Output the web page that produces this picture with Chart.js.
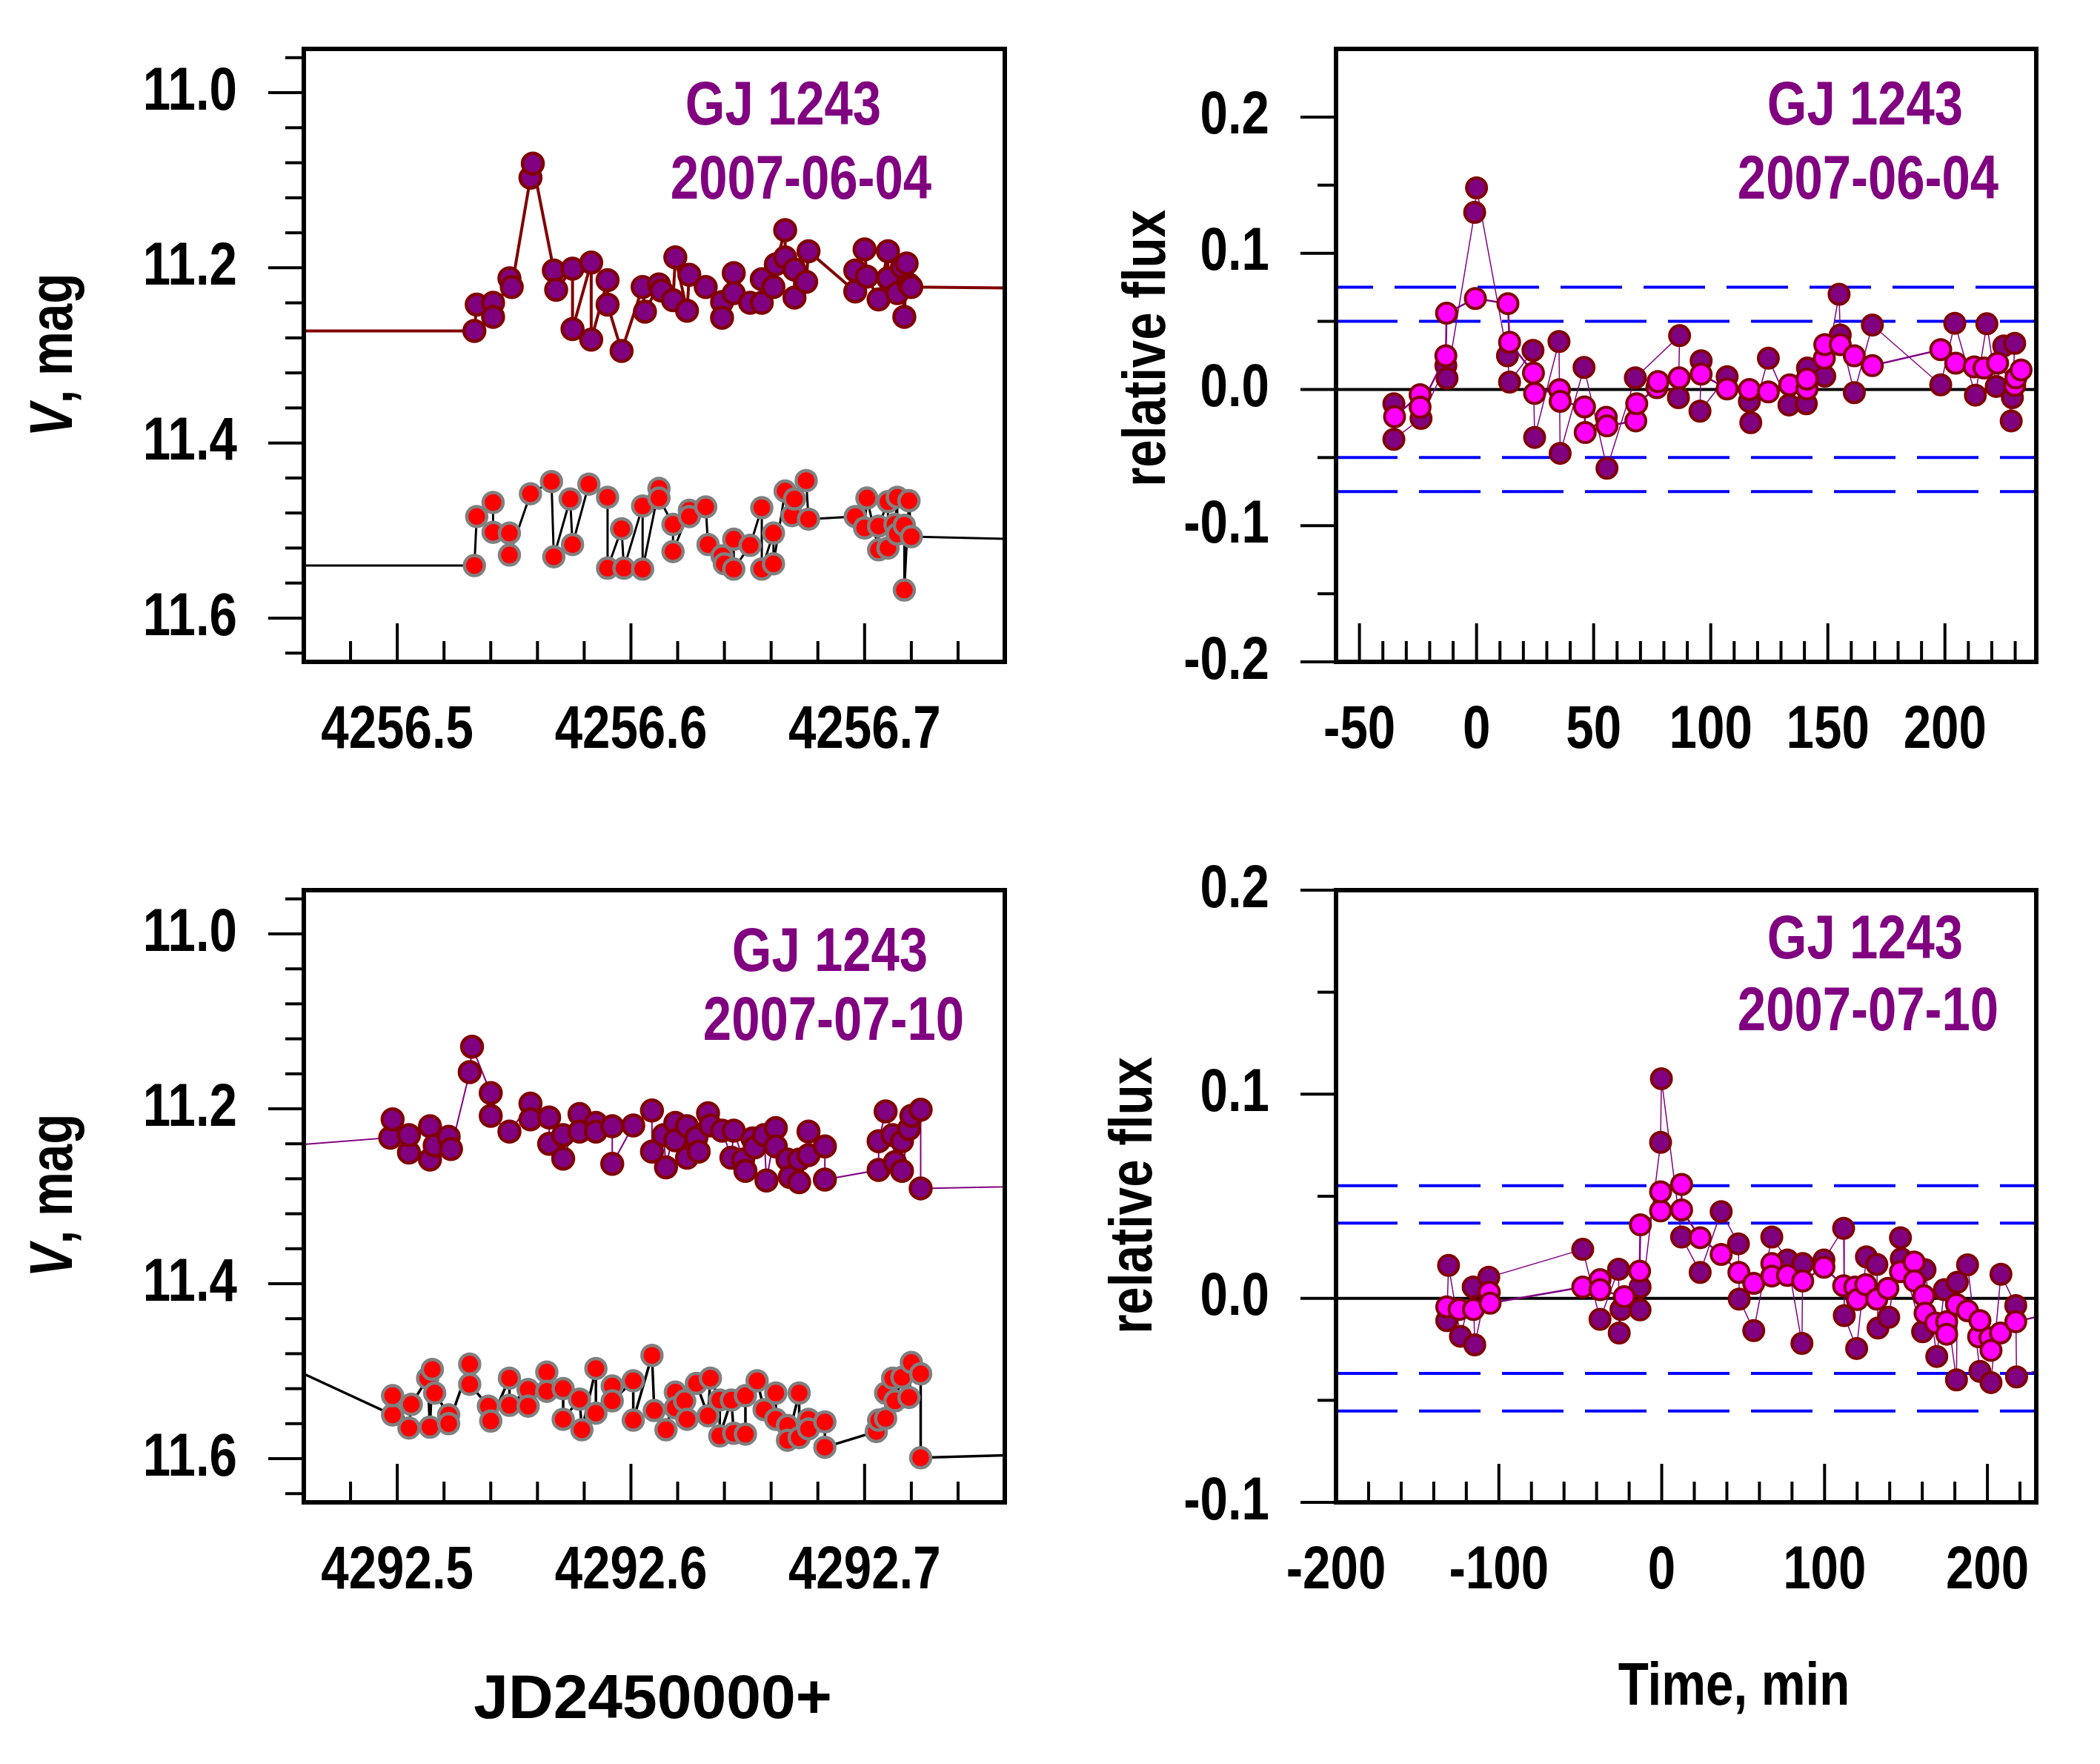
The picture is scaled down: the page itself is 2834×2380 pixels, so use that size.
<!DOCTYPE html>
<html><head><meta charset="utf-8">
<script src="https://cdn.jsdelivr.net/npm/chart.js@4.4.1/dist/chart.umd.min.js"></script>
<style>
html,body{margin:0;padding:0;background:#fff;}
#wrap{position:relative;width:2834px;height:2380px;background:#fff;overflow:hidden;}
.q{position:absolute;}
</style></head><body>
<div id="wrap">
<div class="q" style="left:0;top:0;width:1417px;height:1100px"><canvas id="c1" width="1417" height="1100"></canvas></div>
<div class="q" style="left:1417px;top:0;width:1417px;height:1100px"><canvas id="c2" width="1417" height="1100"></canvas></div>
<div class="q" style="left:0;top:1100px;width:1417px;height:1280px"><canvas id="c3" width="1417" height="1280"></canvas></div>
<div class="q" style="left:1417px;top:1100px;width:1417px;height:1280px"><canvas id="c4" width="1417" height="1280"></canvas></div>
</div>
<script>
// ---------------- DATA ----------------
// 2007-06-04, V magnitudes vs JD-2450000 (star and comparison)
const jun04Star = [[4256.400,11.272],[4256.533,11.272],[4256.534,11.242],[4256.541,11.240],[4256.541,11.256],[4256.548,11.212],[4256.549,11.222],[4256.557,11.097],[4256.558,11.081],[4256.567,11.203],[4256.568,11.225],[4256.575,11.201],[4256.575,11.270],[4256.583,11.194],[4256.583,11.282],[4256.590,11.214],[4256.590,11.242],[4256.596,11.295],[4256.605,11.222],[4256.606,11.250],[4256.612,11.219],[4256.613,11.226],[4256.618,11.237],[4256.619,11.188],[4256.624,11.249],[4256.625,11.208],[4256.632,11.222],[4256.639,11.239],[4256.639,11.257],[4256.644,11.206],[4256.644,11.229],[4256.651,11.240],[4256.656,11.240],[4256.656,11.213],[4256.661,11.222],[4256.662,11.196],[4256.666,11.157],[4256.666,11.188],[4256.670,11.202],[4256.670,11.234],[4256.675,11.216],[4256.676,11.181],[4256.696,11.227],[4256.696,11.203],[4256.700,11.179],[4256.701,11.210],[4256.706,11.236],[4256.710,11.181],[4256.710,11.212],[4256.714,11.229],[4256.716,11.199],[4256.717,11.256],[4256.718,11.195],[4256.719,11.219],[4256.720,11.222],[4256.800,11.224]];
const jun04Comp = [[4256.400,11.540],[4256.533,11.540],[4256.534,11.484],[4256.541,11.468],[4256.541,11.502],[4256.548,11.503],[4256.548,11.528],[4256.557,11.458],[4256.566,11.444],[4256.567,11.530],[4256.574,11.464],[4256.575,11.516],[4256.582,11.447],[4256.590,11.462],[4256.590,11.543],[4256.596,11.498],[4256.597,11.543],[4256.605,11.472],[4256.605,11.544],[4256.612,11.452],[4256.612,11.463],[4256.618,11.493],[4256.618,11.524],[4256.625,11.477],[4256.625,11.484],[4256.632,11.473],[4256.633,11.516],[4256.639,11.529],[4256.640,11.538],[4256.644,11.510],[4256.644,11.544],[4256.651,11.517],[4256.656,11.474],[4256.656,11.544],[4256.661,11.503],[4256.661,11.538],[4256.666,11.455],[4256.669,11.483],[4256.670,11.464],[4256.675,11.443],[4256.676,11.487],[4256.696,11.484],[4256.700,11.497],[4256.701,11.463],[4256.706,11.522],[4256.706,11.495],[4256.710,11.467],[4256.710,11.520],[4256.713,11.493],[4256.714,11.462],[4256.714,11.504],[4256.717,11.494],[4256.717,11.568],[4256.719,11.466],[4256.720,11.507],[4256.800,11.512]];
// 2007-07-10
const jul10Star = [[4292.400,11.253],[4292.497,11.233],[4292.498,11.212],[4292.505,11.250],[4292.505,11.230],[4292.514,11.220],[4292.514,11.258],[4292.516,11.242],[4292.522,11.232],[4292.523,11.246],[4292.531,11.158],[4292.532,11.129],[4292.540,11.182],[4292.540,11.208],[4292.548,11.226],[4292.557,11.194],[4292.557,11.212],[4292.565,11.210],[4292.565,11.240],[4292.571,11.230],[4292.571,11.257],[4292.578,11.206],[4292.578,11.226],[4292.585,11.216],[4292.585,11.226],[4292.592,11.220],[4292.592,11.263],[4292.601,11.219],[4292.609,11.202],[4292.609,11.249],[4292.614,11.230],[4292.615,11.267],[4292.619,11.216],[4292.619,11.236],[4292.624,11.220],[4292.624,11.256],[4292.628,11.233],[4292.629,11.249],[4292.633,11.205],[4292.634,11.219],[4292.639,11.225],[4292.643,11.256],[4292.644,11.225],[4292.648,11.258],[4292.649,11.271],[4292.652,11.234],[4292.653,11.244],[4292.657,11.230],[4292.658,11.282],[4292.662,11.222],[4292.662,11.243],[4292.667,11.258],[4292.668,11.278],[4292.672,11.258],[4292.672,11.284],[4292.676,11.253],[4292.676,11.226],[4292.683,11.243],[4292.683,11.281],[4292.706,11.270],[4292.706,11.237],[4292.709,11.203],[4292.712,11.230],[4292.713,11.261],[4292.716,11.237],[4292.716,11.271],[4292.719,11.223],[4292.720,11.208],[4292.724,11.201],[4292.724,11.291],[4292.800,11.287]];
const jul10Comp = [[4292.400,11.429],[4292.498,11.550],[4292.498,11.528],[4292.505,11.565],[4292.506,11.538],[4292.513,11.508],[4292.514,11.564],[4292.515,11.498],[4292.516,11.525],[4292.522,11.550],[4292.522,11.560],[4292.531,11.492],[4292.531,11.515],[4292.539,11.540],[4292.540,11.557],[4292.548,11.508],[4292.548,11.539],[4292.556,11.521],[4292.556,11.540],[4292.564,11.501],[4292.564,11.523],[4292.571,11.520],[4292.571,11.555],[4292.578,11.532],[4292.579,11.567],[4292.585,11.497],[4292.585,11.548],[4292.592,11.517],[4292.592,11.534],[4292.601,11.511],[4292.601,11.556],[4292.609,11.482],[4292.610,11.545],[4292.615,11.567],[4292.619,11.524],[4292.619,11.542],[4292.623,11.534],[4292.624,11.555],[4292.628,11.514],[4292.633,11.551],[4292.634,11.508],[4292.638,11.533],[4292.638,11.574],[4292.643,11.533],[4292.644,11.571],[4292.649,11.572],[4292.649,11.528],[4292.654,11.511],[4292.657,11.544],[4292.662,11.525],[4292.662,11.555],[4292.667,11.562],[4292.667,11.579],[4292.672,11.525],[4292.672,11.576],[4292.676,11.555],[4292.676,11.566],[4292.683,11.558],[4292.683,11.587],[4292.705,11.569],[4292.706,11.556],[4292.709,11.554],[4292.709,11.525],[4292.712,11.508],[4292.713,11.534],[4292.716,11.507],[4292.719,11.530],[4292.720,11.490],[4292.724,11.503],[4292.724,11.599],[4292.800,11.593]];
// relative flux vs time (min) : raw and smoothed
const jun04Raw = [[-35.3,-0.0105],[-35.3,-0.0366],[-23.7,-0.0213],[-13.1,0.0175],[-12.6,0.0081],[-0.8,0.130],[0.0,0.148],[13.2,0.0247],[14.1,0.0054],[24.1,0.0287],[24.8,-0.0352],[35.2,0.0352],[35.7,-0.0469],[45.9,0.0162],[55.7,-0.0578],[67.8,0.0085],[86.7,0.0395],[86.2,-0.006],[95.9,0.0211],[95.4,-0.0159],[107.0,0.0094],[116.5,-0.0087],[117.1,-0.0244],[124.6,0.0229],[133.4,-0.0114],[140.8,-0.0105],[141.3,0.0157],[148.7,0.0097],[154.8,0.0699],[155.3,0.040],[161.3,-0.0023],[169.0,0.0473],[198.2,0.0034],[204.2,0.0486],[213.0,-0.0042],[217.9,0.0482],[221.9,0.0022],[225.1,0.032],[228.3,-0.0231],[228.8,-0.006],[229.8,0.0338]];
const jun04Smooth = [[-35.0,-0.020],[-24.1,-0.0038],[-24.1,-0.013],[-13.1,0.0247],[-12.8,0.056],[-0.5,0.0668],[13.4,0.063],[14.1,0.0347],[24.3,0.0121],[24.8,-0.0029],[35.4,-0.0002],[35.7,-0.0087],[46.1,-0.0128],[46.4,-0.0316],[55.4,-0.0204],[55.7,-0.0267],[68.0,-0.0231],[68.4,-0.0105],[77.0,0.0013],[77.5,0.0058],[86.5,0.0085],[95.9,0.0112],[107.0,0.0004],[116.5,0.0],[124.6,-0.0018],[133.7,0.0034],[141.1,0.0004],[141.1,0.0076],[148.5,0.0229],[148.7,0.0329],[155.3,0.0329],[161.3,0.0247],[169.0,0.0175],[198.2,0.0292],[204.6,0.0193],[212.5,0.0166],[216.7,0.0157],[222.5,0.0193],[229.8,0.003],[230.3,0.0085],[232.5,0.0143]];
const jul10Raw = [[-132.0,-0.0109],[-130.9,0.0161],[-123.6,-0.0186],[-115.8,0.0055],[-114.8,-0.0228],[-106.2,0.0103],[-48.5,0.024],[-37.9,-0.0103],[-26.5,0.0142],[-26.1,-0.017],[-25.0,-0.0055],[-13.3,0.0055],[-13.3,-0.0057],[-0.7,0.0764],[-0.2,0.1076],[12.2,0.030],[23.6,0.0127],[36.5,0.0425],[47.1,0.0267],[47.6,-0.0004],[56.5,-0.0158],[67.6,0.030],[77.2,0.0188],[86.1,-0.0221],[86.6,0.017],[99.6,0.0188],[111.7,0.0343],[112.1,-0.0085],[119.7,-0.0246],[125.7,0.0203],[132.1,0.0166],[132.8,-0.0146],[139.4,-0.0093],[146.6,0.0297],[147.1,0.0194],[160.2,-0.0164],[161.7,0.014],[168.9,-0.0285],[173.5,0.0042],[181.0,-0.040],[181.5,0.0079],[187.8,0.0164],[195.4,-0.0358],[202.2,-0.0413],[208.3,0.0118],[217.4,-0.0036],[217.9,-0.0385],[236.0,-0.034]];
const jul10Smooth = [[-132.0,-0.0042],[-124.4,-0.0055],[-115.6,-0.0055],[-105.9,0.003],[-105.4,-0.0024],[-48.5,0.0055],[-37.9,0.0091],[-37.9,0.0042],[-23.0,0.0008],[-13.6,0.0133],[-13.1,0.036],[-0.7,0.0428],[-0.7,0.0522],[12.2,0.0558],[12.2,0.0433],[23.6,0.0297],[36.5,0.0215],[47.4,0.0127],[56.5,0.0073],[67.6,0.017],[67.6,0.0109],[77.2,0.0112],[86.6,0.0085],[99.6,0.0152],[111.7,0.0061],[118.6,0.0055],[120.1,-0.0006],[125.3,0.0067],[132.1,-0.0004],[138.9,0.0049],[146.6,0.013],[155.0,0.0178],[155.2,0.0085],[161.0,0.0012],[161.7,-0.0073],[168.2,-0.0121],[175.0,-0.0115],[175.0,-0.0176],[181.0,-0.003],[187.8,-0.0061],[194.6,-0.0188],[195.4,-0.0109],[201.5,-0.0194],[202.2,-0.0255],[208.0,-0.017],[217.4,-0.0115],[236.0,-0.008]];
// threshold levels (±2σ, ±3σ)
const jun04Levels = [0.05, 0.075];
const jul10Levels = [0.0368, 0.0552];
// tick labels
const magTicks = [11.0, 11.2, 11.4, 11.6];
const jd1Ticks = [4256.5, 4256.6, 4256.7];
const jd2Ticks = [4292.5, 4292.6, 4292.7];
const flux1Ticks = [-0.2, -0.1, 0.0, 0.1, 0.2];
const flux2Ticks = [-0.1, 0.0, 0.1, 0.2];
const time1Ticks = [-50, 0, 50, 100, 150, 200];
const time2Ticks = [-200, -100, 0, 100, 200];
const starName = 'GJ 1243';
const dates = ['2007-06-04', '2007-07-10'];

// ---------------- STYLE ----------------
const NARROW = "'Liberation Sans Narrow','Arial Narrow',sans-serif";
const REG = "'Liberation Sans',Arial,sans-serif";
const PURPLE = '#800080', MAROON = '#800000', MAGENTA = '#FF00FF';

// condensed rendering when no narrow face is installed
const K = (function () {
  const c = document.createElement('canvas').getContext('2d');
  c.font = "bold 100px " + NARROW; const a = c.measureText('0000000000').width;
  c.font = "bold 100px " + REG; const b = c.measureText('0000000000').width;
  return (a / b < 0.9) ? 1 : 0.82;
})();
function condense(canvas) {
  const ctx = canvas.getContext('2d');
  const orig = ctx.fillText;
  ctx.fillText = function (t, x, y, mw) {
    if (K !== 1 && /Narrow/.test(this.font)) {
      this.save(); this.translate(x, y); this.scale(K, 1);
      if (mw !== undefined) orig.call(this, t, 0, 0, mw / K); else orig.call(this, t, 0, 0);
      this.restore();
    } else if (mw !== undefined) orig.call(this, t, x, y, mw); else orig.call(this, t, x, y);
  };
}

function range(a, b, s) {
  const n = Math.round((b - a) / s); const out = [];
  for (let i = 0; i <= n; i++) out.push(Math.round((a + i * s) * 1e6) / 1e6);
  return out;
}
const isIn = (v, arr) => arr.some(m => Math.abs(m - v) < 1e-6);
const pts = arr => arr.map(([x, y]) => ({x, y}));
const zeroPad = s => { s.paddingTop = 0; s.paddingBottom = 0; s.paddingLeft = 0; s.paddingRight = 0; };

const cfgs = {};

function makeChart(id, c) {
  cfgs[id] = c;
  const canvas = document.getElementById(id);
  condense(canvas);
  const W = canvas.width, H = canvas.height;
  const xt = range(c.x.from, c.x.to, c.x.step);
  const yt = range(c.y.from, c.y.to, c.y.step);
  c.xt = xt; c.yt = yt;
  new Chart(canvas, {
    type: 'scatter',
    data: {datasets: c.datasets},
    options: {
      responsive: false, animation: false,
      layout: {padding: {left: 0, top: c.area.top, right: W - c.area.right, bottom: 0}},
      plugins: {legend: {display: false}, tooltip: {enabled: false}},
      elements: {line: {tension: 0}},
      scales: {
        x: {
          type: 'linear', position: 'bottom', min: c.x.min, max: c.x.max,
          afterFit: s => { s.height = H - c.area.bottom; zeroPad(s); },
          afterBuildTicks: s => { s.ticks = xt.map(v => ({value: v})); },
          grid: {display: false, drawTicks: false}, border: {display: false},
          ticks: {autoSkip: false, maxRotation: 0, minRotation: 0, padding: 44, color: '#000',
            font: {family: NARROW, size: 82, weight: 'bold'},
            callback: v => isIn(v, c.x.majors) ? c.x.fmt(v) : ''}
        },
        y: {
          type: 'linear', position: 'left', min: c.y.min, max: c.y.max, reverse: !!c.y.reverse,
          afterFit: s => { s.width = c.area.left; zeroPad(s); },
          afterBuildTicks: s => { s.ticks = yt.map(v => ({value: v})); },
          grid: {display: false, drawTicks: false}, border: {display: false},
          ticks: {autoSkip: false, padding: 90, color: '#000',
            font: {family: NARROW, size: 82, weight: 'bold'},
            callback: v => isIn(v, c.y.majors) ? v.toFixed(1) : ''}
        }
      }
    },
    plugins: [decor]
  });
}

const decor = {
  id: 'decor',
  beforeDatasetsDraw(chart) {
    const c = cfgs[chart.canvas.id]; if (!c.levels) return;
    const ctx = chart.ctx, a = chart.chartArea, ys = chart.scales.y;
    ctx.save();
    ctx.beginPath(); ctx.rect(a.left, a.top, a.right - a.left, a.bottom - a.top); ctx.clip();
    ctx.strokeStyle = '#0000FF'; ctx.lineWidth = 4; ctx.setLineDash([83, 29]);
    const lv = [];
    c.levels.forEach(v => { lv.push(v); lv.push(-v); });
    lv.forEach(v => {
      const y = ys.getPixelForValue(v);
      ctx.lineDashOffset = (c.dashShift && v === c.levels[1]) ? c.dashShift : 0;
      ctx.beginPath(); ctx.moveTo(a.left, y); ctx.lineTo(a.right, y); ctx.stroke();
    });
    ctx.setLineDash([]);
    ctx.strokeStyle = '#000'; ctx.lineWidth = 4;
    const y0 = ys.getPixelForValue(0);
    ctx.beginPath(); ctx.moveTo(a.left, y0); ctx.lineTo(a.right, y0); ctx.stroke();
    ctx.restore();
  },
  afterDatasetsDraw(chart) {
    const c = cfgs[chart.canvas.id];
    const ctx = chart.ctx, a = chart.chartArea, xs = chart.scales.x, ys = chart.scales.y;
    ctx.save();
    ctx.strokeStyle = '#000'; ctx.lineWidth = 4; ctx.lineCap = 'butt';
    c.xt.forEach(v => {
      const px = xs.getPixelForValue(v); const len = isIn(v, c.x.majors) ? 52 : 28;
      ctx.beginPath(); ctx.moveTo(px, a.bottom); ctx.lineTo(px, a.bottom - len); ctx.stroke();
    });
    c.yt.forEach(v => {
      const py = ys.getPixelForValue(v); const len = isIn(v, c.y.majors) ? 48 : 25;
      ctx.beginPath(); ctx.moveTo(a.left, py); ctx.lineTo(a.left - len, py); ctx.stroke();
    });
    ctx.lineWidth = 6; ctx.lineJoin = 'miter';
    ctx.strokeRect(a.left, a.top, a.right - a.left, a.bottom - a.top);
    ctx.restore();
  },
  afterDraw(chart) {
    const c = cfgs[chart.canvas.id]; const ctx = chart.ctx;
    c.texts.forEach(t => {
      ctx.save();
      ctx.fillStyle = t.color || '#000';
      ctx.textBaseline = 'alphabetic';
      ctx.translate(t.x, t.y);
      if (t.rot) ctx.rotate(-Math.PI / 2);
      const k = /Narrow/.test(t.family) ? K : 1;
      if (t.italicPrefix) {
        const f1 = 'italic bold ' + t.size + 'px ' + t.family;
        const f2 = 'bold ' + t.size + 'px ' + t.family;
        ctx.font = f1; const w1 = ctx.measureText(t.italicPrefix).width * k;
        ctx.font = f2; const w2 = ctx.measureText(t.text).width * k;
        const x0 = -(w1 + w2) / 2;
        ctx.textAlign = 'left';
        ctx.font = f1; ctx.fillText(t.italicPrefix, x0, 0);
        ctx.font = f2; ctx.fillText(t.text, x0 + w1, 0);
      } else {
        ctx.font = 'bold ' + t.size + 'px ' + t.family;
        ctx.textAlign = 'center';
        ctx.fillText(t.text, 0, 0);
      }
      ctx.restore();
    });
  }
};

function magSets(star, comp, starLine, starLineW, compLineW) {
  return [
    {data: pts(star), showLine: true, borderColor: starLine, borderWidth: starLineW,
     pointBackgroundColor: PURPLE, pointBorderColor: MAROON, pointBorderWidth: 4.5, pointRadius: 14, clip: 0, order: 0},
    {data: pts(comp), showLine: true, borderColor: '#000', borderWidth: compLineW,
     pointBackgroundColor: '#FF0000', pointBorderColor: '#808080', pointBorderWidth: 4.5, pointRadius: 13.5, clip: 0, order: 1}
  ];
}
function fluxSets(raw, smooth) {
  return [
    {data: pts(smooth), showLine: true, borderColor: PURPLE, borderWidth: 2.5,
     pointBackgroundColor: MAGENTA, pointBorderColor: MAROON, pointBorderWidth: 4, pointRadius: 13.5, clip: 0, order: 0},
    {data: pts(raw), showLine: true, borderColor: PURPLE, borderWidth: 1.5,
     pointBackgroundColor: PURPLE, pointBorderColor: MAROON, pointBorderWidth: 4, pointRadius: 13.5, clip: 0, order: 1}
  ];
}

// TL
makeChart('c1', {
  area: {left: 410, top: 66, right: 1356, bottom: 893},
  x: {min: 4256.46, max: 4256.76, from: 4256.46, to: 4256.74, step: 0.02, majors: jd1Ticks, fmt: v => v.toFixed(1)},
  y: {min: 10.95, max: 11.65, from: 10.96, to: 11.64, step: 0.04, majors: magTicks, reverse: true},
  datasets: magSets(jun04Star, jun04Comp, MAROON, 4, 3),
  texts: [
    {text: ', mag', italicPrefix: 'V', x: 97, y: 479, rot: true, size: 82, family: NARROW},
    {text: starName, x: 1057, y: 168, size: 84, family: NARROW, color: PURPLE},
    {text: dates[0], x: 1081, y: 268, size: 84, family: NARROW, color: PURPLE}
  ]
});
// TR
makeChart('c2', {
  area: {left: 386, top: 66, right: 1331, bottom: 893},
  x: {min: -60, max: 239, from: -50, to: 230, step: 10, majors: time1Ticks, fmt: v => String(Math.round(v))},
  y: {min: -0.2, max: 0.25, from: -0.2, to: 0.2, step: 0.05, majors: flux1Ticks},
  levels: jun04Levels, dashShift: 33,
  datasets: fluxSets(jun04Raw, jun04Smooth),
  texts: [
    {text: 'relative flux', x: 155, y: 470, rot: true, size: 82, family: NARROW},
    {text: starName, x: 1100, y: 168, size: 84, family: NARROW, color: PURPLE},
    {text: dates[0], x: 1104, y: 268, size: 84, family: NARROW, color: PURPLE}
  ]
});
// BL
makeChart('c3', {
  area: {left: 410, top: 101, right: 1356, bottom: 927},
  x: {min: 4292.46, max: 4292.76, from: 4292.46, to: 4292.74, step: 0.02, majors: jd2Ticks, fmt: v => v.toFixed(1)},
  y: {min: 10.95, max: 11.65, from: 10.96, to: 11.64, step: 0.04, majors: magTicks, reverse: true},
  datasets: magSets(jul10Star, jul10Comp, PURPLE, 2, 3.5),
  texts: [
    {text: ', mag', italicPrefix: 'V', x: 97, y: 513, rot: true, size: 82, family: NARROW},
    {text: starName, x: 1120, y: 210, size: 84, family: NARROW, color: PURPLE},
    {text: dates[1], x: 1125, y: 303, size: 84, family: NARROW, color: PURPLE},
    {text: 'JD2450000+', x: 881, y: 1218, size: 84, family: REG}
  ]
});
// BR
makeChart('c4', {
  area: {left: 386, top: 101, right: 1331, bottom: 927},
  x: {min: -200, max: 230, from: -200, to: 220, step: 20, majors: time2Ticks, fmt: v => String(Math.round(v))},
  y: {min: -0.1, max: 0.2, from: -0.1, to: 0.2, step: 0.05, majors: flux2Ticks},
  levels: jul10Levels,
  datasets: fluxSets(jul10Raw, jul10Smooth),
  texts: [
    {text: 'relative flux', x: 137, y: 513, rot: true, size: 82, family: NARROW},
    {text: starName, x: 1100, y: 193, size: 84, family: NARROW, color: PURPLE},
    {text: dates[1], x: 1104, y: 290, size: 84, family: NARROW, color: PURPLE},
    {text: 'Time, min', x: 923, y: 1200, size: 82, family: NARROW}
  ]
});
</script>
</body></html>
